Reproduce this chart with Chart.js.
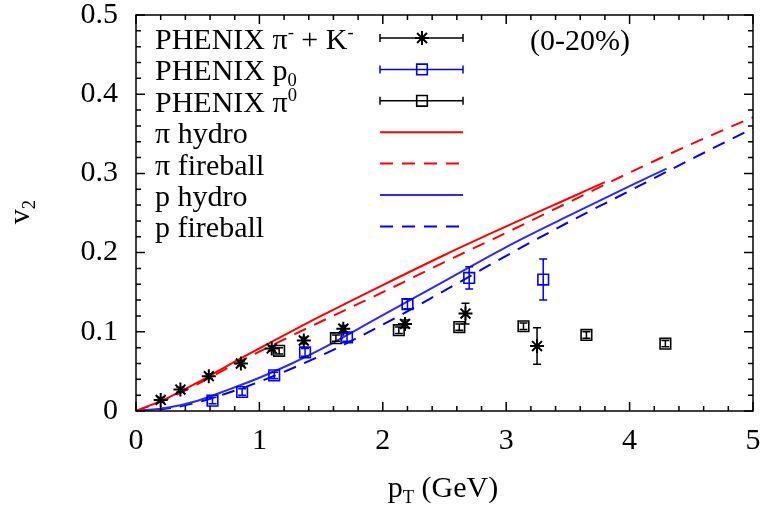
<!DOCTYPE html>
<html>
<head>
<meta charset="utf-8">
<script src="https://cdn.jsdelivr.net/npm/chart.js@4.4.0/dist/chart.umd.min.js"></script>
<style>
  html, body { margin: 0; padding: 0; background: #fff; }
</style>
</head>
<body>
<canvas id="v2Chart" width="764" height="506"></canvas>
<script>
// PHENIX pi- + K- (stars)
const piKPt  = [0.20, 0.36, 0.59, 0.85, 1.10, 1.36, 1.68, 2.18, 2.67, 3.25];
const piKV2  = [0.014, 0.027, 0.044, 0.060, 0.079, 0.089, 0.104, 0.110, 0.123, 0.082];
const piKErr = [0.003, 0.003, 0.003, 0.003, 0.003, 0.004, 0.004, 0.005, 0.013, 0.023];

// PHENIX p (blue squares)
const protonPt  = [0.62, 0.86, 1.12, 1.37, 1.71, 2.20, 2.70, 3.30];
const protonV2  = [0.013, 0.024, 0.045, 0.074, 0.093, 0.135, 0.168, 0.166];
const protonErr = [0.004, 0.004, 0.004, 0.005, 0.005, 0.006, 0.014, 0.026];

// PHENIX pi0 (black squares)
const pi0Pt  = [1.16, 1.62, 2.13, 2.62, 3.14, 3.65, 4.29];
const pi0V2  = [0.076, 0.092, 0.102, 0.106, 0.107, 0.096, 0.085];
const pi0Err = [0.004, 0.004, 0.004, 0.004, 0.004, 0.004, 0.004];

// model curves
const piHydroPt = [0, 0.25, 0.5, 0.75, 1.0, 1.5, 2.0, 2.5, 3.0, 3.5, 3.8];
const piHydroV2 = [0, 0.016, 0.036, 0.058, 0.079, 0.120, 0.159, 0.197, 0.233, 0.268, 0.289];
const piFireballPt = [0, 0.25, 0.5, 0.75, 1.0, 1.5, 2.0, 2.5, 3.0, 3.5, 4.0, 4.5, 5.0];
const piFireballV2 = [0, 0.015, 0.034, 0.055, 0.075, 0.113, 0.150, 0.188, 0.225, 0.263, 0.301, 0.337, 0.371];
const pHydroPt = [0, 0.25, 0.5, 0.75, 1.0, 1.25, 1.5, 2.0, 2.5, 3.0, 3.5, 4.0, 4.3];
const pHydroV2 = [0, 0.004, 0.013, 0.027, 0.042, 0.059, 0.078, 0.121, 0.164, 0.207, 0.246, 0.284, 0.306];
const pFireballPt = [0, 0.25, 0.5, 0.75, 1.0, 1.5, 2.0, 2.5, 3.0, 3.5, 4.0, 4.5, 5.0];
const pFireballV2 = [0, 0.003, 0.011, 0.023, 0.037, 0.070, 0.109, 0.152, 0.196, 0.238, 0.278, 0.318, 0.357];

// legend text (^{} = superscript, _{} = subscript)
const legendLabels = ["PHENIX π^{-} + K^{-}", "PHENIX p_{0}", "PHENIX π^{0}",
  "π hydro", "π fireball", "p hydro", "p fireball"];
const centralityLabel = "(0-20%)";
const xTitle = "p_{T} (GeV)";
const yTitle = "v_{2}";

const FONT = "'Liberation Serif', 'Times New Roman', serif";
const FONT_SIZE = 30;

const toXY = (xs, ys) => xs.map((x, i) => ({ x: x, y: ys[i] }));
const near = (v, step) => Math.abs(v / step - Math.round(v / step)) < 1e-6;

// draws text with ^{..} / _{..} parts, returns width
function richText(ctx, str, x, y, size, measureOnly) {
  const parts = str.split(/([\^_]\{[^}]*\})/).filter(s => s.length);
  let cx = x;
  parts.forEach(p => {
    let s = size, dy = 0, t = p;
    if (p[0] === "^") { t = p.slice(2, -1); s = size * 0.62; dy = -size * 0.36; }
    else if (p[0] === "_") { t = p.slice(2, -1); s = size * 0.62; dy = size * 0.2; }
    ctx.font = s + "px " + FONT;
    if (!measureOnly) ctx.fillText(t, cx, y + dy);
    cx += ctx.measureText(t).width;
  });
  return cx - x;
}

const markerSets = [
  { label: legendLabels[0], data: toXY(piKPt, piKV2), errors: piKErr, color: "#000000", pointStyle: "star", radius: 7, bw: 2 },
  { label: legendLabels[1], data: toXY(protonPt, protonV2), errors: protonErr, color: "#0000ff", pointStyle: "rect", radius: 7.5, bw: 1.6 },
  { label: legendLabels[2], data: toXY(pi0Pt, pi0V2), errors: pi0Err, color: "#000000", pointStyle: "rect", radius: 7.5, bw: 1.6 },
];
const curveSets = [
  { label: legendLabels[3], data: toXY(piHydroPt, piHydroV2), color: "#ff0000", dash: [] },
  { label: legendLabels[4], data: toXY(piFireballPt, piFireballV2), color: "#ff0000", dash: [13, 9] },
  { label: legendLabels[5], data: toXY(pHydroPt, pHydroV2), color: "#2a2aff", dash: [] },
  { label: legendLabels[6], data: toXY(pFireballPt, pFireballV2), color: "#0000ff", dash: [13, 9] },
];

const datasets = [];
markerSets.forEach(m => datasets.push({
  label: m.label, data: m.data, errors: m.errors, showLine: false,
  pointStyle: m.pointStyle, pointRadius: m.radius, pointBorderWidth: m.bw,
  pointBorderColor: m.color, pointBackgroundColor: "rgba(0,0,0,0)", sampleColor: m.color,
}));
curveSets.forEach(c => datasets.push({
  label: c.label, data: c.data, showLine: true, pointRadius: 0,
  borderColor: c.color, borderWidth: 2, borderDash: c.dash,
  cubicInterpolationMode: "monotone", sampleColor: c.color,
}));

const framePlugin = {
  id: "frame",
  afterDatasetsDraw(chart) {
    const ctx = chart.ctx;
    const yScale = chart.scales.y;
    // vertical error bars
    chart.data.datasets.forEach((ds, di) => {
      if (!ds.errors) return;
      const meta = chart.getDatasetMeta(di);
      ctx.save();
      ctx.strokeStyle = ds.sampleColor;
      ctx.lineWidth = 1.5;
      meta.data.forEach((pt, i) => {
        const v = ds.data[i].y, e = ds.errors[i];
        const y1 = yScale.getPixelForValue(v + e), y2 = yScale.getPixelForValue(v - e);
        ctx.beginPath();
        ctx.moveTo(pt.x, y1); ctx.lineTo(pt.x, y2);
        ctx.moveTo(pt.x - 4, y1); ctx.lineTo(pt.x + 4, y1);
        ctx.moveTo(pt.x - 4, y2); ctx.lineTo(pt.x + 4, y2);
        ctx.stroke();
      });
      ctx.restore();
    });
  },
  afterDraw(chart) {
    const ctx = chart.ctx;
    const { left, right, top, bottom } = chart.chartArea;
    const xs = chart.scales.x, ys = chart.scales.y;
    ctx.save();
    ctx.strokeStyle = "#000";
    ctx.lineWidth = 1.5;
    ctx.strokeRect(left, top, right - left, bottom - top);
    ctx.beginPath();
    xs.ticks.forEach(t => {
      const px = xs.getPixelForValue(t.value);
      const len = near(t.value, 1) ? 9 : 5;
      ctx.moveTo(px, bottom); ctx.lineTo(px, bottom - len);
      ctx.moveTo(px, top); ctx.lineTo(px, top + len);
    });
    ys.ticks.forEach(t => {
      const py = ys.getPixelForValue(t.value);
      const len = near(t.value, 0.1) ? 9 : 5;
      ctx.moveTo(left, py); ctx.lineTo(left + len, py);
      ctx.moveTo(right, py); ctx.lineTo(right - len, py);
    });
    ctx.stroke();

    // legend
    ctx.textBaseline = "alphabetic";
    ctx.textAlign = "left";
    const x0 = 380, x1 = 463, xm = 422;
    chart.data.datasets.forEach((ds, i) => {
      const cy = 38 + i * 31.4;
      ctx.fillStyle = "#000";
      richText(ctx, ds.label, 155, cy + 11, FONT_SIZE);
      ctx.strokeStyle = ds.sampleColor;
      if (ds.errors) {
        ctx.lineWidth = 1.5;
        ctx.setLineDash([]);
        ctx.beginPath();
        ctx.moveTo(x0, cy); ctx.lineTo(x1, cy);
        ctx.moveTo(x0, cy - 4); ctx.lineTo(x0, cy + 4);
        ctx.moveTo(x1, cy - 4); ctx.lineTo(x1, cy + 4);
        ctx.stroke();
        ctx.fillStyle = "rgba(0,0,0,0)";
        ctx.lineWidth = ds.pointBorderWidth;
        Chart.helpers.drawPoint(ctx, { pointStyle: ds.pointStyle, radius: ds.pointRadius, rotation: 0, borderWidth: ds.pointBorderWidth }, xm, cy);
      } else {
        ctx.lineWidth = ds.borderWidth;
        ctx.setLineDash(ds.borderDash);
        ctx.beginPath();
        ctx.moveTo(x0, cy); ctx.lineTo(x1, cy);
        ctx.stroke();
        ctx.setLineDash([]);
      }
    });

    ctx.fillStyle = "#000";
    ctx.font = FONT_SIZE + "px " + FONT;
    ctx.fillText(centralityLabel, 530, 50);

    // axis titles
    const w = richText(ctx, xTitle, 0, 0, FONT_SIZE, true);
    richText(ctx, xTitle, 443 - w / 2, 497, FONT_SIZE);
    ctx.translate(29, 212);
    ctx.rotate(-Math.PI / 2);
    const wy = richText(ctx, yTitle, 0, 0, FONT_SIZE, true);
    richText(ctx, yTitle, -wy / 2, 0, FONT_SIZE);
    ctx.restore();
  }
};

new Chart(document.getElementById("v2Chart").getContext("2d"), {
  type: "scatter",
  data: { datasets: datasets },
  options: {
    responsive: false,
    animation: false,
    layout: { padding: { left: 0, right: 11, top: 15, bottom: 0 } },
    plugins: { legend: { display: false }, tooltip: { enabled: false } },
    scales: {
      x: {
        type: "linear", min: 0, max: 5,
        grid: { display: false, drawTicks: false },
        border: { display: false },
        ticks: {
          stepSize: 0.2, autoSkip: false, maxRotation: 0, padding: 12,
          color: "#000", font: { family: FONT, size: FONT_SIZE },
          callback: v => near(v, 1) ? String(Math.round(v)) : "",
        },
        afterFit: s => { s.height = 95; s.paddingLeft = 0; s.paddingRight = 0; },
      },
      y: {
        type: "linear", min: 0, max: 0.5,
        grid: { display: false, drawTicks: false },
        border: { display: false },
        ticks: {
          stepSize: 0.02, autoSkip: false, padding: 18,
          color: "#000", font: { family: FONT, size: FONT_SIZE },
          callback: v => near(v, 0.1) ? String(Math.round(v * 10) / 10) : "",
        },
        afterFit: s => { s.width = 136; s.paddingTop = 0; s.paddingBottom = 0; },
      },
    },
  },
  plugins: [framePlugin],
});
</script>
</body>
</html>
